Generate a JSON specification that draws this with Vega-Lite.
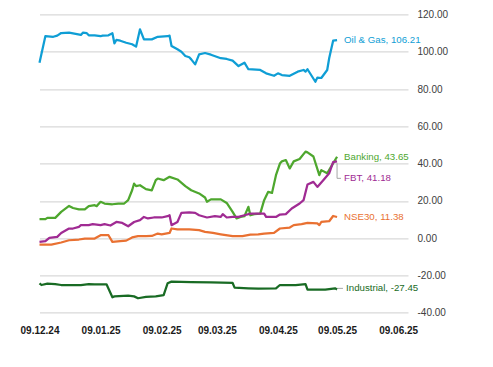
{
  "$schema": "https://vega.github.io/schema/vega-lite/v6.json",
  "autosize": "none",
  "width": 368.5,
  "height": 298.4,
  "padding": {"left": 39.5, "top": 14.4, "right": 85, "bottom": 54.2},
  "background": "white",
  "config": {
    "view": {"stroke": null},
    "font": "Liberation Sans, Arial, sans-serif"
  },
  "datasets": {
    "series": [
      {"s":"Oil & Gas","d":"2024-12-09","v":94.1},
      {"s":"Oil & Gas","d":"2024-12-12","v":108.4},
      {"s":"Oil & Gas","d":"2024-12-16","v":108.0},
      {"s":"Oil & Gas","d":"2024-12-18","v":108.6},
      {"s":"Oil & Gas","d":"2024-12-20","v":110.0},
      {"s":"Oil & Gas","d":"2024-12-24","v":110.2},
      {"s":"Oil & Gas","d":"2024-12-30","v":109.0},
      {"s":"Oil & Gas","d":"2024-12-31","v":110.2},
      {"s":"Oil & Gas","d":"2025-01-02","v":109.9},
      {"s":"Oil & Gas","d":"2025-01-03","v":108.8},
      {"s":"Oil & Gas","d":"2025-01-06","v":108.8},
      {"s":"Oil & Gas","d":"2025-01-09","v":108.3},
      {"s":"Oil & Gas","d":"2025-01-10","v":108.6},
      {"s":"Oil & Gas","d":"2025-01-13","v":108.8},
      {"s":"Oil & Gas","d":"2025-01-15","v":109.9},
      {"s":"Oil & Gas","d":"2025-01-16","v":104.5},
      {"s":"Oil & Gas","d":"2025-01-17","v":106.3},
      {"s":"Oil & Gas","d":"2025-01-19","v":105.9},
      {"s":"Oil & Gas","d":"2025-01-22","v":104.8},
      {"s":"Oil & Gas","d":"2025-01-25","v":104.0},
      {"s":"Oil & Gas","d":"2025-01-27","v":102.7},
      {"s":"Oil & Gas","d":"2025-01-29","v":112.0},
      {"s":"Oil & Gas","d":"2025-01-31","v":106.6},
      {"s":"Oil & Gas","d":"2025-02-04","v":106.6},
      {"s":"Oil & Gas","d":"2025-02-07","v":108.0},
      {"s":"Oil & Gas","d":"2025-02-12","v":108.3},
      {"s":"Oil & Gas","d":"2025-02-13","v":108.6},
      {"s":"Oil & Gas","d":"2025-02-14","v":103.1},
      {"s":"Oil & Gas","d":"2025-02-17","v":101.3},
      {"s":"Oil & Gas","d":"2025-02-19","v":100.0},
      {"s":"Oil & Gas","d":"2025-02-21","v":97.7},
      {"s":"Oil & Gas","d":"2025-02-23","v":97.0},
      {"s":"Oil & Gas","d":"2025-02-24","v":95.9},
      {"s":"Oil & Gas","d":"2025-02-26","v":93.2},
      {"s":"Oil & Gas","d":"2025-02-28","v":98.6},
      {"s":"Oil & Gas","d":"2025-03-03","v":99.3},
      {"s":"Oil & Gas","d":"2025-03-06","v":98.4},
      {"s":"Oil & Gas","d":"2025-03-11","v":96.5},
      {"s":"Oil & Gas","d":"2025-03-14","v":96.1},
      {"s":"Oil & Gas","d":"2025-03-17","v":95.2},
      {"s":"Oil & Gas","d":"2025-03-20","v":92.3},
      {"s":"Oil & Gas","d":"2025-03-23","v":94.1},
      {"s":"Oil & Gas","d":"2025-03-25","v":90.6},
      {"s":"Oil & Gas","d":"2025-03-31","v":90.2},
      {"s":"Oil & Gas","d":"2025-04-03","v":88.4},
      {"s":"Oil & Gas","d":"2025-04-07","v":87.1},
      {"s":"Oil & Gas","d":"2025-04-09","v":88.4},
      {"s":"Oil & Gas","d":"2025-04-11","v":87.5},
      {"s":"Oil & Gas","d":"2025-04-15","v":87.1},
      {"s":"Oil & Gas","d":"2025-04-19","v":89.3},
      {"s":"Oil & Gas","d":"2025-04-22","v":90.2},
      {"s":"Oil & Gas","d":"2025-04-23","v":89.3},
      {"s":"Oil & Gas","d":"2025-04-24","v":90.6},
      {"s":"Oil & Gas","d":"2025-04-28","v":83.9},
      {"s":"Oil & Gas","d":"2025-04-29","v":86.1},
      {"s":"Oil & Gas","d":"2025-05-01","v":85.9},
      {"s":"Oil & Gas","d":"2025-05-04","v":90.2},
      {"s":"Oil & Gas","d":"2025-05-05","v":96.5},
      {"s":"Oil & Gas","d":"2025-05-07","v":105.9},
      {"s":"Oil & Gas","d":"2025-05-09","v":106.21},

      {"s":"Banking","d":"2024-12-09","v":10.2},
      {"s":"Banking","d":"2024-12-12","v":10.2},
      {"s":"Banking","d":"2024-12-13","v":10.9},
      {"s":"Banking","d":"2024-12-17","v":10.9},
      {"s":"Banking","d":"2024-12-20","v":14.1},
      {"s":"Banking","d":"2024-12-24","v":17.3},
      {"s":"Banking","d":"2024-12-26","v":16.2},
      {"s":"Banking","d":"2024-12-29","v":15.5},
      {"s":"Banking","d":"2025-01-01","v":15.5},
      {"s":"Banking","d":"2025-01-03","v":17.2},
      {"s":"Banking","d":"2025-01-06","v":17.7},
      {"s":"Banking","d":"2025-01-07","v":17.2},
      {"s":"Banking","d":"2025-01-09","v":19.5},
      {"s":"Banking","d":"2025-01-11","v":18.6},
      {"s":"Banking","d":"2025-01-15","v":18.2},
      {"s":"Banking","d":"2025-01-18","v":18.6},
      {"s":"Banking","d":"2025-01-21","v":18.6},
      {"s":"Banking","d":"2025-01-23","v":20.4},
      {"s":"Banking","d":"2025-01-25","v":25.7},
      {"s":"Banking","d":"2025-01-26","v":29.3},
      {"s":"Banking","d":"2025-01-27","v":27.9},
      {"s":"Banking","d":"2025-01-29","v":28.4},
      {"s":"Banking","d":"2025-02-01","v":26.3},
      {"s":"Banking","d":"2025-02-04","v":25.7},
      {"s":"Banking","d":"2025-02-06","v":31.1},
      {"s":"Banking","d":"2025-02-07","v":32.0},
      {"s":"Banking","d":"2025-02-10","v":31.1},
      {"s":"Banking","d":"2025-02-13","v":32.9},
      {"s":"Banking","d":"2025-02-17","v":31.5},
      {"s":"Banking","d":"2025-02-21","v":27.9},
      {"s":"Banking","d":"2025-02-24","v":25.7},
      {"s":"Banking","d":"2025-02-28","v":24.0},
      {"s":"Banking","d":"2025-03-03","v":21.8},
      {"s":"Banking","d":"2025-03-04","v":19.5},
      {"s":"Banking","d":"2025-03-06","v":20.8},
      {"s":"Banking","d":"2025-03-11","v":20.8},
      {"s":"Banking","d":"2025-03-14","v":18.9},
      {"s":"Banking","d":"2025-03-17","v":14.1},
      {"s":"Banking","d":"2025-03-19","v":10.6},
      {"s":"Banking","d":"2025-03-21","v":11.4},
      {"s":"Banking","d":"2025-03-23","v":11.8},
      {"s":"Banking","d":"2025-03-25","v":16.8},
      {"s":"Banking","d":"2025-03-26","v":12.3},
      {"s":"Banking","d":"2025-03-28","v":12.9},
      {"s":"Banking","d":"2025-03-31","v":13.2},
      {"s":"Banking","d":"2025-04-02","v":20.4},
      {"s":"Banking","d":"2025-04-04","v":24.8},
      {"s":"Banking","d":"2025-04-06","v":24.3},
      {"s":"Banking","d":"2025-04-08","v":33.8},
      {"s":"Banking","d":"2025-04-10","v":40.0},
      {"s":"Banking","d":"2025-04-11","v":41.2},
      {"s":"Banking","d":"2025-04-13","v":41.9},
      {"s":"Banking","d":"2025-04-15","v":37.4},
      {"s":"Banking","d":"2025-04-17","v":41.2},
      {"s":"Banking","d":"2025-04-20","v":42.5},
      {"s":"Banking","d":"2025-04-23","v":46.4},
      {"s":"Banking","d":"2025-04-24","v":46.0},
      {"s":"Banking","d":"2025-04-27","v":43.8},
      {"s":"Banking","d":"2025-04-30","v":33.8},
      {"s":"Banking","d":"2025-05-01","v":36.5},
      {"s":"Banking","d":"2025-05-04","v":34.8},
      {"s":"Banking","d":"2025-05-06","v":38.4},
      {"s":"Banking","d":"2025-05-09","v":43.65},

      {"s":"FBT","d":"2024-12-09","v":-2.0},
      {"s":"FBT","d":"2024-12-12","v":-1.6},
      {"s":"FBT","d":"2024-12-14","v":0.2},
      {"s":"FBT","d":"2024-12-18","v":0.7},
      {"s":"FBT","d":"2024-12-20","v":2.8},
      {"s":"FBT","d":"2024-12-24","v":5.2},
      {"s":"FBT","d":"2024-12-26","v":5.2},
      {"s":"FBT","d":"2024-12-29","v":6.1},
      {"s":"FBT","d":"2024-12-30","v":7.0},
      {"s":"FBT","d":"2025-01-03","v":7.0},
      {"s":"FBT","d":"2025-01-05","v":7.5},
      {"s":"FBT","d":"2025-01-09","v":7.0},
      {"s":"FBT","d":"2025-01-11","v":7.5},
      {"s":"FBT","d":"2025-01-14","v":6.8},
      {"s":"FBT","d":"2025-01-17","v":8.7},
      {"s":"FBT","d":"2025-01-20","v":8.2},
      {"s":"FBT","d":"2025-01-23","v":6.4},
      {"s":"FBT","d":"2025-01-26","v":8.7},
      {"s":"FBT","d":"2025-01-29","v":9.7},
      {"s":"FBT","d":"2025-01-31","v":11.4},
      {"s":"FBT","d":"2025-02-02","v":10.6},
      {"s":"FBT","d":"2025-02-05","v":11.1},
      {"s":"FBT","d":"2025-02-09","v":11.1},
      {"s":"FBT","d":"2025-02-12","v":11.8},
      {"s":"FBT","d":"2025-02-13","v":12.3},
      {"s":"FBT","d":"2025-02-14","v":7.0},
      {"s":"FBT","d":"2025-02-17","v":8.7},
      {"s":"FBT","d":"2025-02-19","v":13.6},
      {"s":"FBT","d":"2025-02-23","v":13.8},
      {"s":"FBT","d":"2025-02-26","v":13.6},
      {"s":"FBT","d":"2025-02-28","v":12.3},
      {"s":"FBT","d":"2025-03-04","v":11.1},
      {"s":"FBT","d":"2025-03-08","v":11.8},
      {"s":"FBT","d":"2025-03-11","v":11.4},
      {"s":"FBT","d":"2025-03-12","v":12.9},
      {"s":"FBT","d":"2025-03-14","v":11.1},
      {"s":"FBT","d":"2025-03-17","v":11.4},
      {"s":"FBT","d":"2025-03-20","v":11.4},
      {"s":"FBT","d":"2025-03-23","v":12.3},
      {"s":"FBT","d":"2025-03-26","v":13.2},
      {"s":"FBT","d":"2025-03-30","v":13.2},
      {"s":"FBT","d":"2025-04-02","v":13.2},
      {"s":"FBT","d":"2025-04-03","v":11.4},
      {"s":"FBT","d":"2025-04-08","v":11.4},
      {"s":"FBT","d":"2025-04-10","v":12.7},
      {"s":"FBT","d":"2025-04-13","v":12.9},
      {"s":"FBT","d":"2025-04-16","v":15.9},
      {"s":"FBT","d":"2025-04-20","v":18.6},
      {"s":"FBT","d":"2025-04-22","v":20.4},
      {"s":"FBT","d":"2025-04-24","v":28.8},
      {"s":"FBT","d":"2025-04-27","v":30.2},
      {"s":"FBT","d":"2025-04-29","v":27.5},
      {"s":"FBT","d":"2025-05-02","v":31.1},
      {"s":"FBT","d":"2025-05-05","v":34.8},
      {"s":"FBT","d":"2025-05-07","v":40.8},
      {"s":"FBT","d":"2025-05-09","v":41.18},

      {"s":"NSE30","d":"2024-12-09","v":-3.4},
      {"s":"NSE30","d":"2024-12-15","v":-3.4},
      {"s":"NSE30","d":"2024-12-20","v":-2.3},
      {"s":"NSE30","d":"2024-12-24","v":-1.1},
      {"s":"NSE30","d":"2024-12-29","v":-0.7},
      {"s":"NSE30","d":"2025-01-01","v":-0.2},
      {"s":"NSE30","d":"2025-01-06","v":-0.2},
      {"s":"NSE30","d":"2025-01-09","v":1.6},
      {"s":"NSE30","d":"2025-01-13","v":1.6},
      {"s":"NSE30","d":"2025-01-15","v":-2.0},
      {"s":"NSE30","d":"2025-01-19","v":-1.6},
      {"s":"NSE30","d":"2025-01-22","v":-1.3},
      {"s":"NSE30","d":"2025-01-25","v":0.4},
      {"s":"NSE30","d":"2025-01-28","v":1.1},
      {"s":"NSE30","d":"2025-02-01","v":1.1},
      {"s":"NSE30","d":"2025-02-04","v":1.2},
      {"s":"NSE30","d":"2025-02-07","v":2.5},
      {"s":"NSE30","d":"2025-02-09","v":2.1},
      {"s":"NSE30","d":"2025-02-13","v":2.8},
      {"s":"NSE30","d":"2025-02-14","v":5.2},
      {"s":"NSE30","d":"2025-02-17","v":4.7},
      {"s":"NSE30","d":"2025-02-23","v":4.7},
      {"s":"NSE30","d":"2025-02-28","v":4.3},
      {"s":"NSE30","d":"2025-03-03","v":3.4},
      {"s":"NSE30","d":"2025-03-07","v":2.8},
      {"s":"NSE30","d":"2025-03-11","v":2.1},
      {"s":"NSE30","d":"2025-03-17","v":1.1},
      {"s":"NSE30","d":"2025-03-22","v":1.1},
      {"s":"NSE30","d":"2025-03-26","v":1.9},
      {"s":"NSE30","d":"2025-03-30","v":2.1},
      {"s":"NSE30","d":"2025-04-02","v":2.5},
      {"s":"NSE30","d":"2025-04-07","v":2.8},
      {"s":"NSE30","d":"2025-04-10","v":5.2},
      {"s":"NSE30","d":"2025-04-15","v":5.7},
      {"s":"NSE30","d":"2025-04-17","v":7.0},
      {"s":"NSE30","d":"2025-04-21","v":7.5},
      {"s":"NSE30","d":"2025-04-24","v":8.2},
      {"s":"NSE30","d":"2025-04-29","v":7.9},
      {"s":"NSE30","d":"2025-04-30","v":7.0},
      {"s":"NSE30","d":"2025-05-01","v":8.7},
      {"s":"NSE30","d":"2025-05-05","v":9.1},
      {"s":"NSE30","d":"2025-05-07","v":11.9},
      {"s":"NSE30","d":"2025-05-09","v":11.38},

      {"s":"Industrial","d":"2024-12-09","v":-24.2},
      {"s":"Industrial","d":"2024-12-10","v":-25.1},
      {"s":"Industrial","d":"2024-12-13","v":-24.4},
      {"s":"Industrial","d":"2024-12-17","v":-24.6},
      {"s":"Industrial","d":"2024-12-20","v":-25.1},
      {"s":"Industrial","d":"2024-12-30","v":-25.1},
      {"s":"Industrial","d":"2025-01-03","v":-24.6},
      {"s":"Industrial","d":"2025-01-06","v":-24.7},
      {"s":"Industrial","d":"2025-01-12","v":-24.7},
      {"s":"Industrial","d":"2025-01-15","v":-31.7},
      {"s":"Industrial","d":"2025-01-16","v":-31.2},
      {"s":"Industrial","d":"2025-01-23","v":-30.8},
      {"s":"Industrial","d":"2025-01-26","v":-31.2},
      {"s":"Industrial","d":"2025-01-28","v":-32.2},
      {"s":"Industrial","d":"2025-02-01","v":-31.5},
      {"s":"Industrial","d":"2025-02-06","v":-31.2},
      {"s":"Industrial","d":"2025-02-10","v":-30.5},
      {"s":"Industrial","d":"2025-02-12","v":-24.2},
      {"s":"Industrial","d":"2025-02-14","v":-23.3},
      {"s":"Industrial","d":"2025-02-24","v":-23.5},
      {"s":"Industrial","d":"2025-03-06","v":-23.7},
      {"s":"Industrial","d":"2025-03-17","v":-24.0},
      {"s":"Industrial","d":"2025-03-18","v":-26.5},
      {"s":"Industrial","d":"2025-03-25","v":-26.9},
      {"s":"Industrial","d":"2025-03-30","v":-27.1},
      {"s":"Industrial","d":"2025-04-08","v":-26.9},
      {"s":"Industrial","d":"2025-04-10","v":-25.1},
      {"s":"Industrial","d":"2025-04-18","v":-25.1},
      {"s":"Industrial","d":"2025-04-23","v":-24.6},
      {"s":"Industrial","d":"2025-04-24","v":-27.6},
      {"s":"Industrial","d":"2025-05-03","v":-27.6},
      {"s":"Industrial","d":"2025-05-08","v":-26.9},
      {"s":"Industrial","d":"2025-05-09","v":-27.45}
    ],
    "labels": [
      {"s":"Oil & Gas","d":"2025-05-09","v":106.21,"t":"Oil & Gas, 106.21"},
      {"s":"Banking","d":"2025-05-09","v":43.65,"t":"Banking, 43.65"},
      {"s":"NSE30","d":"2025-05-09","v":11.38,"t":"NSE30, 11.38"},
      {"s":"FBT","d":"2025-05-09","v":41.18,"t":"FBT, 41.18"},
      {"s":"Industrial","d":"2025-05-09","v":-27.45,"t":"Industrial, -27.45"}
    ],
    "leaders": [
      {"g":"FBT","o":1,"d":"2025-05-09","v":40.2},
      {"g":"FBT","o":2,"d":"2025-05-09","v":32.1},
      {"g":"FBT","o":3,"d":"2025-05-11","v":32.1},
      {"g":"Industrial","o":1,"d":"2025-05-09","v":-26.9},
      {"g":"Industrial","o":2,"d":"2025-05-12","v":-26.9}
    ]
  },
  "encoding": {
    "x": {
      "field": "d", "type": "temporal",
      "scale": {"type": "utc", "domain": [{"year":2024,"month":12,"date":9,"utc":true},{"year":2025,"month":6,"date":14,"utc":true}]},
      "axis": {
        "title": null, "domain": false, "ticks": false, "grid": false,
        "values": [
          {"year":2024,"month":12,"date":9,"utc":true},
          {"year":2025,"month":1,"date":9,"utc":true},
          {"year":2025,"month":2,"date":9,"utc":true},
          {"year":2025,"month":3,"date":9,"utc":true},
          {"year":2025,"month":4,"date":9,"utc":true},
          {"year":2025,"month":5,"date":9,"utc":true},
          {"year":2025,"month":6,"date":9,"utc":true}
        ],
        "labelExpr": "utcFormat(datum.value, '%d.%m.%y')",
        "labelFont": "Liberation Sans, Arial, sans-serif",
        "labelFontSize": 10, "labelFontWeight": "bold", "labelColor": "#1A1A1A",
        "labelPadding": 13, "labelBaseline": "top", "labelFlush": false, "labelOverlap": false
      }
    },
    "y": {
      "field": "v", "type": "quantitative",
      "scale": {"domain": [-40, 120], "nice": false, "zero": false},
      "axis": {
        "title": null, "orient": "right", "domain": false, "ticks": false,
        "values": [-40, -20, 0, 20, 40, 60, 80, 100, 120],
        "labelExpr": "replace(format(datum.value, '.2f'), '\u2212', '-')",
        "labelFont": "Liberation Sans, Arial, sans-serif",
        "labelFontSize": 10, "labelColor": "#404040", "labelPadding": 9,
        "gridColor": "#D9D9D9", "gridWidth": 1.3
      }
    }
  },
  "layer": [
    {
      "data": {"name": "leaders"},
      "mark": {"type": "line", "stroke": "#A6A6A6", "strokeWidth": 1},
      "encoding": {"detail": {"field": "g"}, "order": {"field": "o"}}
    },
    {
      "data": {"name": "series"},
      "mark": {"type": "line", "strokeWidth": 2.25, "strokeJoin": "round"},
      "encoding": {
        "color": {
          "field": "s", "type": "nominal", "legend": null,
          "scale": {"domain": ["Oil & Gas","Banking","FBT","NSE30","Industrial"],
                    "range": ["#0F9ED5","#4EA72E","#A02B93","#E97132","#196B24"]}
        }
      }
    },
    {
      "data": {"name": "labels"},
      "transform": [{"filter": "datum.s !== 'FBT' && datum.s !== 'Industrial'"}],
      "mark": {"type": "text", "align": "left", "baseline": "middle", "dx": 7, "fontSize": 9.7,
               "font": "Liberation Sans, Arial, sans-serif"},
      "encoding": {
        "text": {"field": "t"},
        "color": {"field": "s", "type": "nominal", "legend": null}
      }
    },
    {
      "data": {"name": "labels"},
      "transform": [{"filter": "datum.s === 'FBT'"}],
      "mark": {"type": "text", "align": "left", "baseline": "middle", "dx": 7, "dy": 16.5, "fontSize": 9.7,
               "font": "Liberation Sans, Arial, sans-serif"},
      "encoding": {
        "text": {"field": "t"},
        "color": {"field": "s", "type": "nominal", "legend": null}
      }
    },
    {
      "data": {"name": "labels"},
      "transform": [{"filter": "datum.s === 'Industrial'"}],
      "mark": {"type": "text", "align": "left", "baseline": "middle", "dx": 9, "dy": -1.5, "fontSize": 9.7,
               "font": "Liberation Sans, Arial, sans-serif"},
      "encoding": {
        "text": {"field": "t"},
        "color": {"field": "s", "type": "nominal", "legend": null}
      }
    }
  ]
}
